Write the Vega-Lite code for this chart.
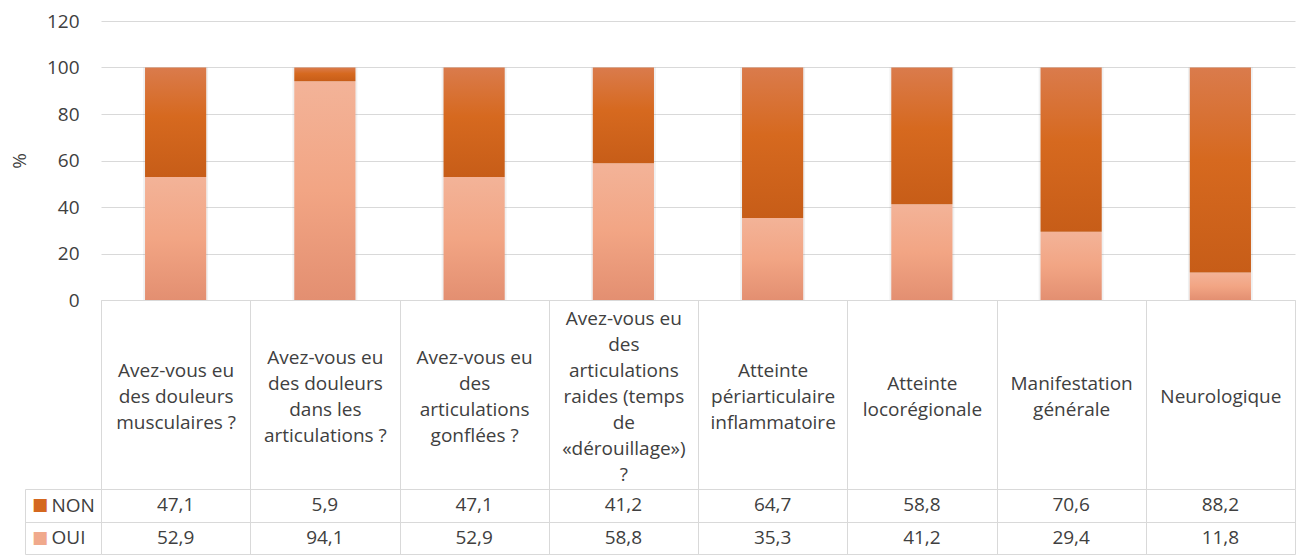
{
  "$schema": "https://vega.github.io/schema/vega-lite/v6.json",
  "padding": {"left": 10, "top": 12, "right": 0, "bottom": 0},
  "background": "white",
  "config": {
    "font": "Open Sans",
    "locale": {"number": {"decimal": ",", "thousands": " ", "grouping": [3], "currency": ["", " €"]}},
    "view": {"stroke": null},
    "axis": {"labelFont": "Open Sans", "labelColor": "#404040", "labelFontSize": 19}
  },
  "data": {
    "values": [
      {"cat": "Avez-vous eu\ndes douleurs\nmusculaires ?", "series": "NON", "value": 47.1},
      {"cat": "Avez-vous eu\ndes douleurs\nmusculaires ?", "series": "OUI", "value": 52.9},
      {"cat": "Avez-vous eu\ndes douleurs\ndans les\narticulations ?", "series": "NON", "value": 5.9},
      {"cat": "Avez-vous eu\ndes douleurs\ndans les\narticulations ?", "series": "OUI", "value": 94.1},
      {"cat": "Avez-vous eu\ndes\narticulations\ngonflées ?", "series": "NON", "value": 47.1},
      {"cat": "Avez-vous eu\ndes\narticulations\ngonflées ?", "series": "OUI", "value": 52.9},
      {"cat": "Avez-vous eu\ndes\narticulations\nraides (temps\nde\n«dérouillage»)\n?", "series": "NON", "value": 41.2},
      {"cat": "Avez-vous eu\ndes\narticulations\nraides (temps\nde\n«dérouillage»)\n?", "series": "OUI", "value": 58.8},
      {"cat": "Atteinte\npériarticulaire\ninflammatoire", "series": "NON", "value": 64.7},
      {"cat": "Atteinte\npériarticulaire\ninflammatoire", "series": "OUI", "value": 35.3},
      {"cat": "Atteinte\nlocorégionale", "series": "NON", "value": 58.8},
      {"cat": "Atteinte\nlocorégionale", "series": "OUI", "value": 41.2},
      {"cat": "Manifestation\ngénérale", "series": "NON", "value": 70.6},
      {"cat": "Manifestation\ngénérale", "series": "OUI", "value": 29.4},
      {"cat": "Neurologique", "series": "NON", "value": 88.2},
      {"cat": "Neurologique", "series": "OUI", "value": 11.8}
    ]
  },
  "bounds": "flush",
  "spacing": 189,
  "vconcat": [
    {
      "width": 1194,
      "height": 279,
      "transform": [
        {"stack": "value", "groupby": ["cat"], "sort": [{"field": "series", "order": "descending"}], "as": ["v0", "v1"]}
      ],
      "encoding": {
        "x": {
          "field": "cat", "type": "nominal", "sort": null,
          "scale": {"paddingInner": 0, "paddingOuter": 0},
          "axis": {
            "title": null, "domain": true, "domainColor": "#D9D9D9", "ticks": true, "tickBand": "extent",
            "tickSize": 189, "tickColor": "#D9D9D9", "labelAngle": 0,
            "labelExpr": "split(datum.label, '\\n')",
            "labelBaseline": "middle", "labelAlign": "center",
            "labelPadding": {"expr": "-93 - 13 * (length(split(datum.value, '\\n')) - 1)"},
            "labelLineHeight": 26, "labelOverlap": false, "labelLimit": 0,
            "labelFlush": false, "labelBound": false
          }
        }
      },
      "layer": [
        {
          "mark": {"type": "bar", "width": {"band": 0.435}, "fill": "#000000", "opacity": 0.06},
          "encoding": {
            "y": {"field": "v0", "type": "quantitative", "scale": {"domain": [0, 120], "nice": false},
              "axis": {"values": [0, 20, 40, 60, 80, 100, 120], "title": "%", "titleFont": "Open Sans", "titleFontSize": 19,
                "titleFontWeight": "normal", "titleColor": "#404040", "titlePadding": 17, "domain": false, "ticks": false,
                "labelPadding": 22, "grid": true, "gridColor": "#D9D9D9"}},
            "y2": {"field": "v1"}
          }
        },
        {
          "transform": [{"filter": "datum.series === 'OUI'"}],
          "mark": {"type": "bar", "width": {"band": 0.41},
            "fill": {"x1": 0, "y1": 0, "x2": 0, "y2": 1, "gradient": "linear",
              "stops": [{"offset": 0, "color": "#F3B398"}, {"offset": 0.5, "color": "#F2A584"}, {"offset": 1, "color": "#E38F71"}]}},
          "encoding": {
            "y": {"field": "v0", "type": "quantitative"},
            "y2": {"field": "v1"}
          }
        },
        {
          "transform": [{"filter": "datum.series === 'NON'"}],
          "mark": {"type": "bar", "width": {"band": 0.41},
            "fill": {"x1": 0, "y1": 0, "x2": 0, "y2": 1, "gradient": "linear",
              "stops": [{"offset": 0, "color": "#DA7B4C"}, {"offset": 0.45, "color": "#D6691F"}, {"offset": 1, "color": "#C75D18"}]}},
          "encoding": {
            "y": {"field": "v0", "type": "quantitative"},
            "y2": {"field": "v1"}
          }
        }
      ]
    },
    {
      "width": 1194,
      "height": 65,
      "encoding": {
        "x": {
          "field": "cat", "type": "nominal", "sort": null,
          "scale": {"paddingInner": 0, "paddingOuter": 0},
          "axis": {"orient": "top", "title": null, "labels": false, "ticks": false, "domain": false,
            "grid": true, "gridColor": "#D9D9D9", "tickBand": "extent", "minExtent": 0, "maxExtent": 0}
        }
      },
      "layer": [
        {
          "mark": {"type": "text", "font": "Open Sans", "fontSize": 19, "color": "#404040"},
          "encoding": {
            "text": {"field": "value", "type": "quantitative", "format": ".1f"},
            "y": {"field": "series", "type": "nominal", "sort": ["NON", "OUI"],
              "scale": {"paddingInner": 0, "paddingOuter": 0},
              "axis": {"title": null, "orient": "left", "domain": false, "ticks": true, "tickBand": "extent",
                "tickSize": 76, "tickColor": "#D9D9D9", "grid": true, "gridColor": "#D9D9D9",
                "labelAlign": "left", "labelBaseline": "middle", "labelPadding": -26, "minExtent": 76, "maxExtent": 76}}
          }
        },
        {
          "mark": {"type": "text", "opacity": 0},
          "encoding": {
            "text": {"value": ""},
            "y": {"field": "series", "type": "nominal", "sort": ["NON", "OUI"],
              "axis": {"title": null, "orient": "left", "offset": 76, "domain": true, "domainColor": "#D9D9D9",
                "ticks": false, "tickSize": 0, "grid": false, "labelExpr": "'■'", "labelFontSize": 17,
                "labelFont": "DejaVu Sans",
                "labelAlign": "center", "labelBaseline": "middle", "labelPadding": -14.5,
                "labelColor": {"condition": {"test": "datum.value === 'NON'", "value": "#D4681F"}, "value": "#F0A98C"},
                "minExtent": 0, "maxExtent": 0}}
          }
        }
      ],
      "resolve": {"axis": {"y": "independent"}}
    }
  ]
}
